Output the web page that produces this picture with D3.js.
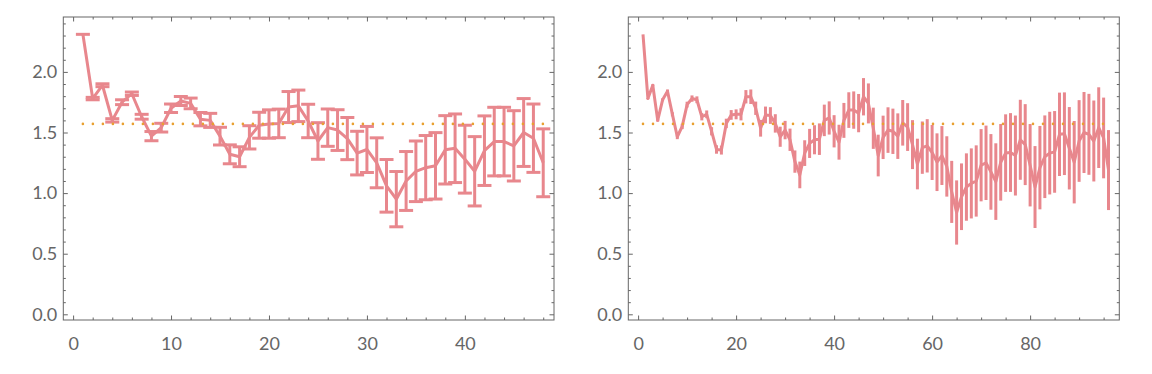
<!DOCTYPE html>
<html>
<head>
<meta charset="utf-8">
<script src="https://cdn.jsdelivr.net/npm/d3@7"></script>
<style>
  body { margin: 0; background: #fff; }
  .axis text { font-family: Lato, "Open Sans", sans-serif; font-size: 18px; fill: #666; }
  .axis line { stroke: #666; }
  .axis path { display: none; }
</style>
</head>
<body>
<svg id="graphic" width="1152" height="374"></svg>
<script>
// left panel: 48 points, error bars with caps
var leftValues = [2.31, 1.78, 1.89, 1.60, 1.75, 1.82, 1.63, 1.47, 1.54, 1.70,
  1.76, 1.74, 1.61, 1.60, 1.47, 1.32, 1.30, 1.46, 1.56, 1.57,
  1.575, 1.71, 1.72, 1.595, 1.43, 1.54, 1.52, 1.45, 1.33, 1.36,
  1.25, 1.06, 0.95, 1.10, 1.18, 1.21, 1.225, 1.357, 1.37, 1.28,
  1.18, 1.35, 1.425, 1.425, 1.39, 1.50, 1.453, 1.25];
var leftErrors = [0, 0.01, 0.012, 0.014, 0.02, 0.014, 0.02, 0.038, 0.036, 0.035,
  0.037, 0.044, 0.055, 0.058, 0.073, 0.078, 0.082, 0.096, 0.107, 0.117,
  0.118, 0.128, 0.13, 0.138, 0.151, 0.154, 0.168, 0.174, 0.18, 0.19,
  0.206, 0.217, 0.228, 0.243, 0.25, 0.265, 0.274, 0.282, 0.283, 0.28,
  0.286, 0.287, 0.283, 0.283, 0.29, 0.28, 0.282, 0.28];

// right panel: 96 points, error bars without caps
var rightValues = [2.31, 1.78, 1.89, 1.60, 1.77, 1.84, 1.65, 1.465, 1.55, 1.73,
  1.78, 1.77, 1.63, 1.65, 1.51, 1.36, 1.355, 1.575, 1.645, 1.65,
  1.65, 1.795, 1.795, 1.70, 1.535, 1.645, 1.64, 1.575, 1.465, 1.52,
  1.44, 1.26, 1.15, 1.33, 1.41, 1.44, 1.445, 1.60, 1.62, 1.51,
  1.42, 1.60, 1.685, 1.685, 1.66, 1.795, 1.74, 1.535, 1.31, 1.46,
  1.52, 1.51, 1.47, 1.58, 1.545, 1.40, 1.24, 1.375, 1.39, 1.335,
  1.255, 1.31, 1.22, 1.01, 0.84, 0.97, 1.05, 1.08, 1.10, 1.23,
  1.25, 1.175, 1.095, 1.254, 1.33, 1.335, 1.31, 1.44, 1.40, 1.23,
  1.05, 1.21, 1.30, 1.33, 1.34, 1.485, 1.49, 1.37, 1.255, 1.43,
  1.50, 1.485, 1.43, 1.54, 1.455, 1.19];
var rightErrors = [0, 0.005, 0.008, 0.01, 0.012, 0.015, 0.017, 0.02, 0.022, 0.024,
  0.026, 0.028, 0.03, 0.032, 0.034, 0.035, 0.037, 0.039, 0.04, 0.041,
  0.05, 0.055, 0.06, 0.055, 0.069, 0.069, 0.069, 0.076, 0.083, 0.076,
  0.092, 0.092, 0.11, 0.106, 0.12, 0.12, 0.13, 0.13, 0.137, 0.133,
  0.144, 0.144, 0.147, 0.154, 0.158, 0.154, 0.165, 0.17, 0.172, 0.179,
  0.188, 0.187, 0.188, 0.188, 0.197, 0.202, 0.209, 0.216, 0.22, 0.227,
  0.238, 0.243, 0.249, 0.256, 0.265, 0.275, 0.278, 0.289, 0.294, 0.298,
  0.307, 0.312, 0.316, 0.316, 0.32, 0.325, 0.33, 0.33, 0.334, 0.34,
  0.338, 0.344, 0.341, 0.341, 0.337, 0.344, 0.341, 0.34, 0.34, 0.337,
  0.334, 0.334, 0.334, 0.333, 0.333, 0.33];

var refValue = 1.5708; // dotted reference line (pi/2)
var yTicks = [0, 0.5, 1, 1.5, 2];

var lineColor = '#e8878d';
var refColor = '#e9a030';

var svg = d3.select('#graphic');

function drawPanel(p) {
  var x = d3.scaleLinear().domain(p.xDomain).range([p.left, p.right]);
  var y = d3.scaleLinear().domain([-0.047, 2.453]).range([320, 17]);

  var data = p.values.map(function(v, i) { return { x: i + 1, v: v, e: p.errors[i] }; });

  var g = svg.append('g');

  // frame
  g.append('rect')
    .attr('x', p.left).attr('y', 17)
    .attr('width', p.right - p.left).attr('height', 303)
    .attr('fill', 'none').attr('stroke', '#666').attr('stroke-width', 1);

  var xMinor = d3.range(p.minorStep, p.xDomain[1], p.minorStep).filter(function(d) { return p.xTicks.indexOf(d) < 0; });
  var yMinor = d3.range(0.1, 2.45, 0.1).map(function(d) { return +d.toFixed(1); })
    .filter(function(d) { return yTicks.indexOf(d) < 0; });

  // bottom / top axes
  g.append('g').attr('class', 'axis').attr('transform', 'translate(0,320)')
    .call(d3.axisBottom(x).tickValues(p.xTicks).tickSize(-4.5).tickPadding(17).tickFormat(d3.format('d')));
  g.append('g').attr('class', 'axis').attr('transform', 'translate(0,320)')
    .call(d3.axisBottom(x).tickValues(xMinor).tickSize(-2.5).tickFormat(''));
  g.append('g').attr('class', 'axis').attr('transform', 'translate(0,17)')
    .call(d3.axisTop(x).tickValues(p.xTicks).tickSize(-4.5).tickFormat(''));
  g.append('g').attr('class', 'axis').attr('transform', 'translate(0,17)')
    .call(d3.axisTop(x).tickValues(xMinor).tickSize(-2.5).tickFormat(''));

  // left / right axes
  g.append('g').attr('class', 'axis').attr('transform', 'translate(' + p.left + ',0)')
    .call(d3.axisLeft(y).tickValues(yTicks).tickSize(-4.5).tickPadding(6).tickFormat(d3.format('.1f')));
  g.append('g').attr('class', 'axis').attr('transform', 'translate(' + p.left + ',0)')
    .call(d3.axisLeft(y).tickValues(yMinor).tickSize(-2.5).tickFormat(''));
  g.append('g').attr('class', 'axis').attr('transform', 'translate(' + p.right + ',0)')
    .call(d3.axisRight(y).tickValues(yTicks).tickSize(-4.5).tickFormat(''));
  g.append('g').attr('class', 'axis').attr('transform', 'translate(' + p.right + ',0)')
    .call(d3.axisRight(y).tickValues(yMinor).tickSize(-2.5).tickFormat(''));

  // error bars
  var bars = g.append('g').attr('stroke', lineColor).attr('stroke-width', 3);
  bars.selectAll('line.bar')
    .data(data.filter(function(d) { return d.e > 0; }))
    .join('line').attr('class', 'bar')
    .attr('x1', function(d) { return x(d.x); })
    .attr('x2', function(d) { return x(d.x); })
    .attr('y1', function(d) { return y(d.v + d.e); })
    .attr('y2', function(d) { return y(d.v - d.e); });

  if (p.cap) {
    var caps = [];
    data.forEach(function(d) {
      caps.push({ x: d.x, v: d.v + d.e });
      if (d.e > 0) caps.push({ x: d.x, v: d.v - d.e });
    });
    bars.selectAll('line.cap')
      .data(caps)
      .join('line').attr('class', 'cap')
      .attr('x1', function(d) { return x(d.x) - p.cap / 2; })
      .attr('x2', function(d) { return x(d.x) + p.cap / 2; })
      .attr('y1', function(d) { return y(d.v); })
      .attr('y2', function(d) { return y(d.v); });
  }

  // main line
  g.append('path')
    .datum(data)
    .attr('fill', 'none')
    .attr('stroke', lineColor)
    .attr('stroke-width', 3)
    .attr('stroke-linejoin', 'round')
    .attr('d', d3.line().x(function(d) { return x(d.x); }).y(function(d) { return y(d.v); }));

  // dotted reference
  g.append('line')
    .attr('x1', x(1)).attr('x2', x(data.length))
    .attr('y1', y(refValue)).attr('y2', y(refValue))
    .attr('stroke', refColor)
    .attr('stroke-width', 2.6)
    .attr('stroke-linecap', 'round')
    .attr('stroke-dasharray', '0,10');
}

drawPanel({ left: 63.3, right: 554, xDomain: [-1, 49.1], xTicks: [0, 10, 20, 30, 40], minorStep: 2,
  values: leftValues, errors: leftErrors, cap: 14 });
drawPanel({ left: 628.3, right: 1119.3, xDomain: [-2, 98.2], xTicks: [0, 20, 40, 60, 80], minorStep: 5,
  values: rightValues, errors: rightErrors, cap: 0 });
</script>
</body>
</html>
